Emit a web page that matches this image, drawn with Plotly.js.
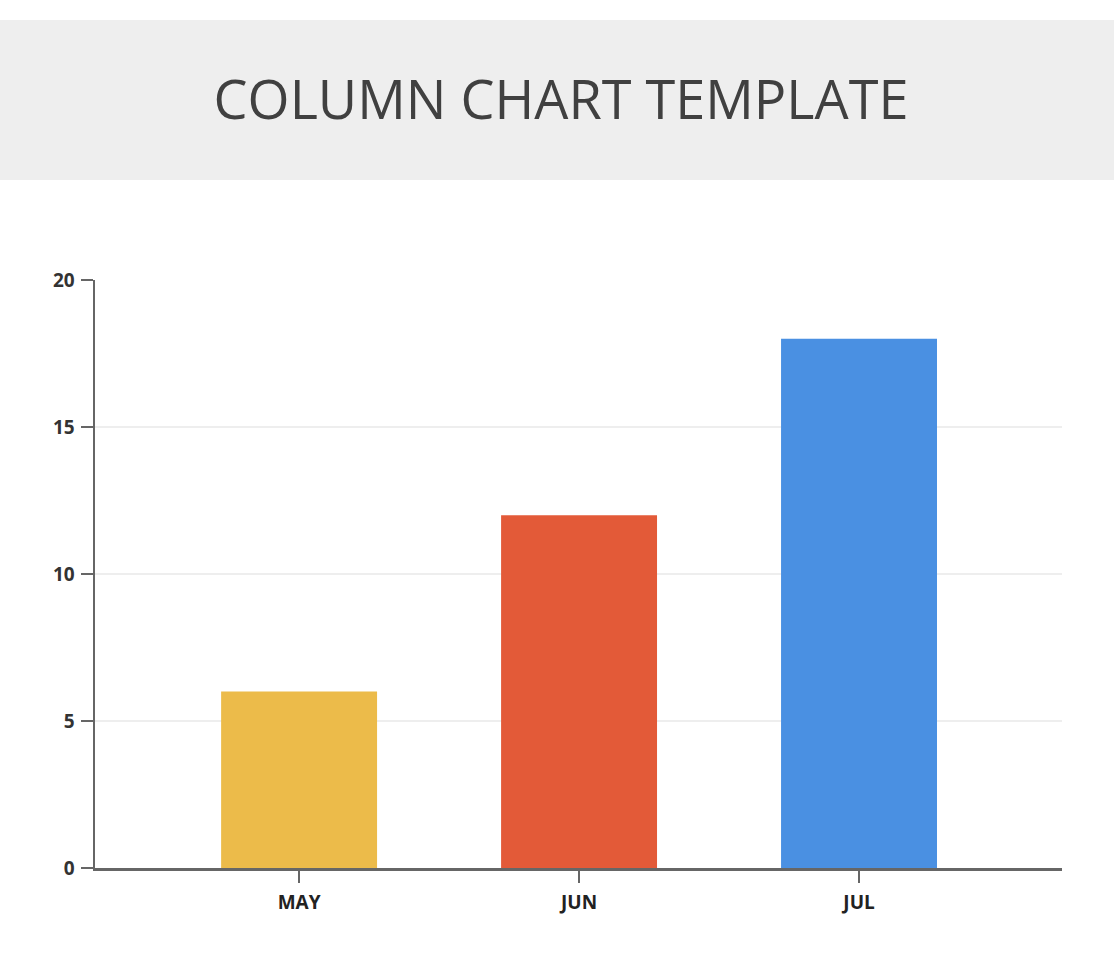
<!DOCTYPE html>
<html>
<head>
<meta charset="utf-8">
<script src="https://cdn.plot.ly/plotly-3.0.1.min.js"></script>
<style>html,body{margin:0;padding:0;background:#fff;}#chart{width:1114px;height:958px;}</style>
</head>
<body>
<div id="chart"></div>
<script>
const categories = ["MAY", "JUN", "JUL"];
const values = [6, 12, 18];
const barColors = ["#ECBB4A", "#E35A38", "#4A90E2"];
const yTicks = [0, 5, 10, 15, 20];

const trace = {
  type: "bar",
  x: categories,
  y: values,
  width: 0.557,
  marker: { color: barColors, line: { width: 0 } },
  hoverinfo: "x+y"
};

const layout = {
  width: 1114,
  height: 958,
  margin: { l: 95, r: 52, t: 280, b: 90 },
  paper_bgcolor: "#ffffff",
  plot_bgcolor: "#ffffff",
  showlegend: false,
  title: {
    text: "COLUMN CHART TEMPLATE",
    font: { family: "Open Sans", size: 54, color: "#404040" },
    x: 0.5036, xref: "container", xanchor: "center",
    y: 0.8956, yref: "container", yanchor: "middle"
  },
  shapes: [{
    type: "rect", xref: "paper", yref: "paper",
    x0: -0.0983, x1: 1.055, y0: 1.1701, y1: 1.4422,
    fillcolor: "#eeeeee", line: { width: 0 }, layer: "below"
  }],
  xaxis: {
    range: [-0.729, 2.725],
    showline: true, linecolor: "#666666", linewidth: 2.5,
    ticks: "outside", ticklen: 12, tickwidth: 2.5, tickcolor: "#666666",
    ticklabelstandoff: 4,
    showgrid: false, zeroline: false,
    tickfont: { family: "Open Sans", size: 19, color: "#222222", weight: "bold" },
    fixedrange: true
  },
  yaxis: {
    range: [0, 20],
    tickvals: yTicks,
    showline: true, linecolor: "#666666", linewidth: 2.5,
    ticks: "outside", ticklen: 12, tickwidth: 2.5, tickcolor: "#666666",
    ticklabelstandoff: 2,
    showgrid: true, gridcolor: "#eeeeee", gridwidth: 2,
    zeroline: false,
    tickfont: { family: "Open Sans", size: 19, color: "#333333", weight: "bold" },
    fixedrange: true
  }
};

Plotly.newPlot("chart", [trace], layout, { displayModeBar: false, staticPlot: true });
</script>
</body>
</html>
